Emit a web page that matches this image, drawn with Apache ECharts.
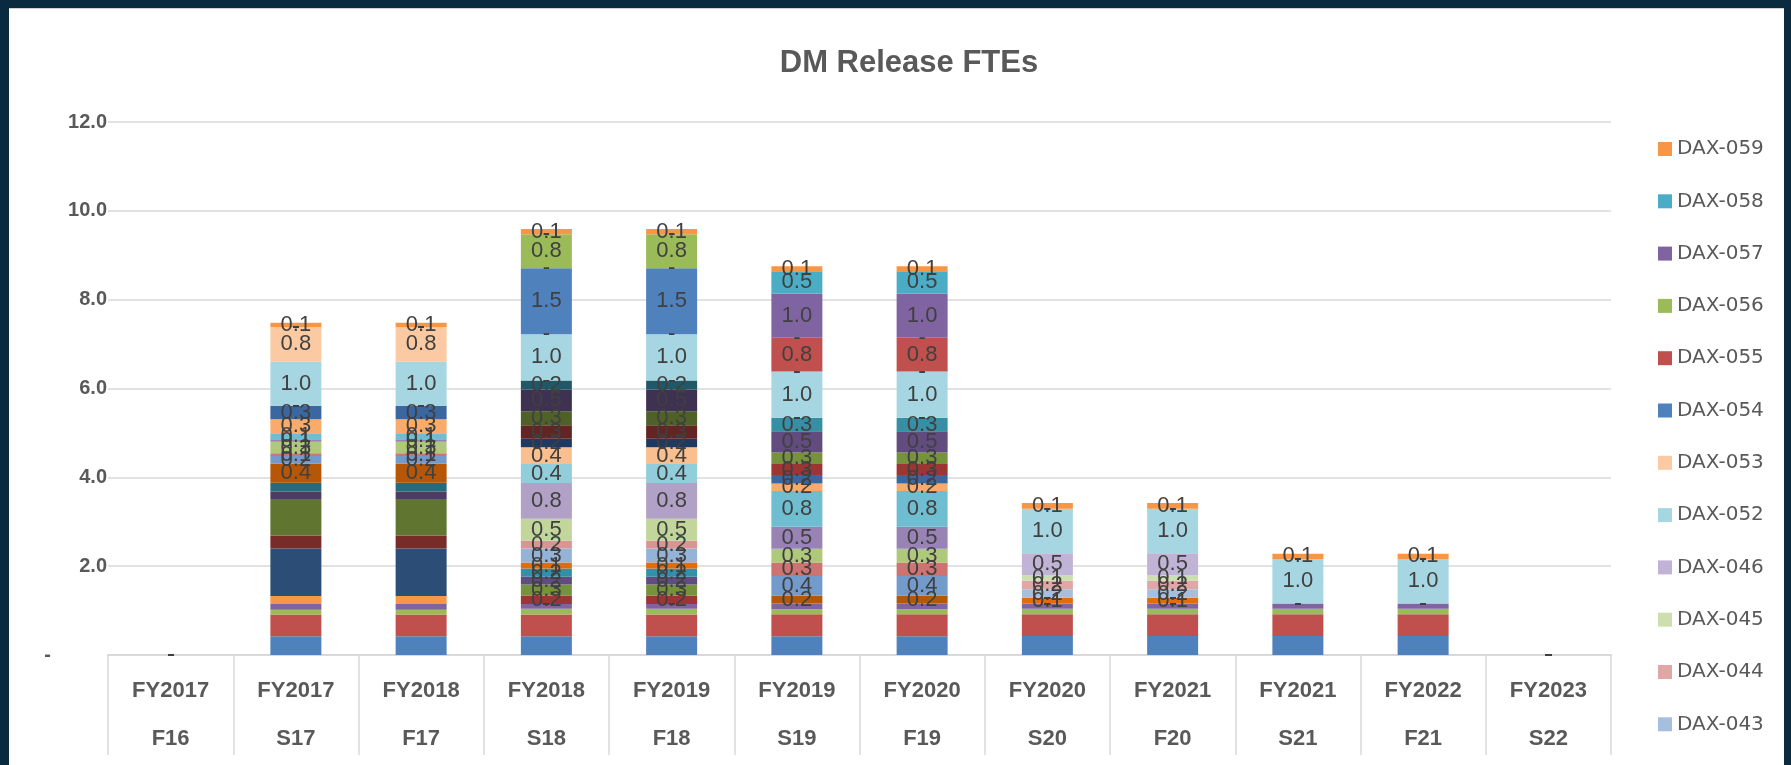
<!DOCTYPE html>
<html>
<head>
<meta charset="utf-8">
<script src="https://cdn.jsdelivr.net/npm/echarts@6/dist/echarts.min.js"></script>
<style>
  html, body { margin: 0; padding: 0; background: #0a2b3f; }
  #chart {
    position: absolute; left: 9px; top: 8px;
    width: 1775px; height: 757px;
    background: #fff; border-top: 1px solid #d0d0d0; box-sizing: border-box;
  }
</style>
</head>
<body>
<div id="chart"></div>
<script>
// categories (two-level axis)
const categories = ['F16', 'S17', 'F17', 'S18', 'F18', 'S19', 'F19', 'S20', 'F20', 'S21', 'F21', 'S22'];
const fiscalYears = ['FY2017', 'FY2017', 'FY2018', 'FY2018', 'FY2019', 'FY2019', 'FY2020', 'FY2020', 'FY2021', 'FY2021', 'FY2022', 'FY2023'];

// only the last 12 series show in the (cut off) legend
const legendNames = ['DAX-059', 'DAX-058', 'DAX-057', 'DAX-056', 'DAX-055', 'DAX-054',
  'DAX-053', 'DAX-052', 'DAX-046', 'DAX-045', 'DAX-044', 'DAX-043'];

// stacking order, bottom first
const hiddenNames = Array.from({ length: 36 }, (_, i) => 'Series ' + (i + 1));
const namedSeries = ['DAX-043', 'DAX-044', 'DAX-045', 'DAX-046', 'DAX-052', 'DAX-053',
  'DAX-054', 'DAX-055', 'DAX-056', 'DAX-057', 'DAX-058', 'DAX-059'];
const seriesNames = hiddenNames.concat(namedSeries);

const seriesColors = [
  '#4F81BD', '#C0504D', '#9BBB59', '#8064A2', '#4BACC6', '#F79646',
  '#2C4D75', '#772C2A', '#5F7530', '#4D3B62', '#276A7C', '#B65708',
  '#729ACA', '#CD7371', '#AFC97A', '#9983B5', '#6FBDD1', '#F9AB6B',
  '#3A67A0', '#9B3634', '#76923C', '#624B7E', '#3590A6', '#E36C09',
  '#95B3D7', '#D99594', '#C2D69B', '#B2A1C7', '#92CDDC', '#FABF8F',
  '#1F3A60', '#632423', '#4F6128', '#3F3151', '#205867', '#974806',
  '#A7BFDE', '#DFA8A7', '#CDDEAF', '#C0B3D5', '#A6D6E2', '#FBCAA2',
  '#4F81BD', '#C0504D', '#9BBB59', '#8064A2', '#4BACC6', '#F79646'
];

// values per category, 48 per column in stacking order (groups of 6)
const colF16 = [
  0, 0, 0, 0, 0, 0,   0, 0, 0, 0, 0, 0,   0, 0, 0, 0, 0, 0,   0, 0, 0, 0, 0, 0,
  0, 0, 0, 0, 0, 0,   0, 0, 0, 0, 0, 0,   0, 0, 0, 0, 0, 0,   0, 0, 0, 0, 0, 0];
const colS17 = [
  0.42, 0.49, 0.11, 0.13, 0, 0.18,   1.07, 0.29, 0.82, 0.17, 0.2, 0.43,
  0.17, 0.06, 0.26, 0.06, 0.13, 0.32,   0.3, 0, 0, 0, 0, 0,
  0, 0, 0, 0, 0, 0,   0, 0, 0, 0, 0, 0,
  0, 0, 0, 0, 1.0, 0.77,   0, 0, 0, 0, 0, 0.1];
const colF17 = [
  0.42, 0.49, 0.11, 0.13, 0, 0.18,   1.07, 0.29, 0.82, 0.17, 0.2, 0.43,
  0.17, 0.06, 0.26, 0.06, 0.13, 0.32,   0.3, 0, 0, 0, 0, 0,
  0, 0, 0, 0, 0, 0,   0, 0, 0, 0, 0, 0,
  0, 0, 0, 0, 1.0, 0.77,   0, 0, 0, 0, 0, 0.1];
const colS18 = [
  0.42, 0.49, 0.13, 0.11, 0, 0,   0, 0, 0, 0, 0, 0,
  0, 0, 0, 0, 0, 0,   0, 0.19, 0.25, 0.17, 0.19, 0.13,
  0.32, 0.17, 0.5, 0.8, 0.43, 0.38,   0.19, 0.3, 0.32, 0.49, 0.2, 0,
  0, 0, 0, 0, 1.04, 0,   1.49, 0, 0.76, 0, 0, 0.12];
const colF18 = [
  0.42, 0.49, 0.13, 0.11, 0, 0,   0, 0, 0, 0, 0, 0,
  0, 0, 0, 0, 0, 0,   0, 0.19, 0.25, 0.17, 0.19, 0.13,
  0.32, 0.17, 0.5, 0.8, 0.43, 0.38,   0.19, 0.3, 0.32, 0.49, 0.2, 0,
  0, 0, 0, 0, 1.04, 0,   1.49, 0, 0.76, 0, 0, 0.12];
const colS19 = [
  0.42, 0.5, 0.11, 0.13, 0, 0,   0, 0, 0, 0, 0, 0.18,
  0.44, 0.3, 0.31, 0.5, 0.8, 0.17,   0.19, 0.25, 0.26, 0.48, 0.3, 0,
  0, 0, 0, 0, 0, 0,   0, 0, 0, 0, 0, 0,
  0, 0, 0, 0, 1.04, 0,   0, 0.76, 0, 1.0, 0.5, 0.11];
const colF19 = [
  0.42, 0.5, 0.11, 0.13, 0, 0,   0, 0, 0, 0, 0, 0.18,
  0.44, 0.3, 0.31, 0.5, 0.8, 0.17,   0.19, 0.25, 0.26, 0.48, 0.3, 0,
  0, 0, 0, 0, 0, 0,   0, 0, 0, 0, 0, 0,
  0, 0, 0, 0, 1.04, 0,   0, 0.76, 0, 1.0, 0.5, 0.11];
const colS20 = [
  0.43, 0.49, 0.12, 0.12, 0, 0,   0, 0, 0, 0, 0, 0,
  0, 0, 0, 0, 0, 0,   0, 0, 0, 0, 0, 0.13,
  0, 0, 0, 0, 0, 0,   0, 0, 0, 0, 0, 0,
  0.19, 0.19, 0.13, 0.49, 1.0, 0,   0, 0, 0, 0, 0, 0.13];
const colF20 = [
  0.43, 0.49, 0.12, 0.12, 0, 0,   0, 0, 0, 0, 0, 0,
  0, 0, 0, 0, 0, 0,   0, 0, 0, 0, 0, 0.13,
  0, 0, 0, 0, 0, 0,   0, 0, 0, 0, 0, 0,
  0.19, 0.19, 0.13, 0.49, 1.0, 0,   0, 0, 0, 0, 0, 0.13];
const colS21 = [
  0.43, 0.49, 0.12, 0.12, 0, 0,   0, 0, 0, 0, 0, 0,
  0, 0, 0, 0, 0, 0,   0, 0, 0, 0, 0, 0,
  0, 0, 0, 0, 0, 0,   0, 0, 0, 0, 0, 0,
  0, 0, 0, 0, 1.0, 0,   0, 0, 0, 0, 0, 0.12];
const colF21 = [
  0.43, 0.49, 0.12, 0.12, 0, 0,   0, 0, 0, 0, 0, 0,
  0, 0, 0, 0, 0, 0,   0, 0, 0, 0, 0, 0,
  0, 0, 0, 0, 0, 0,   0, 0, 0, 0, 0, 0,
  0, 0, 0, 0, 1.0, 0,   0, 0, 0, 0, 0, 0.12];
const colS22 = [
  0, 0, 0, 0, 0, 0,   0, 0, 0, 0, 0, 0,   0, 0, 0, 0, 0, 0,   0, 0, 0, 0, 0, 0,
  0, 0, 0, 0, 0, 0,   0, 0, 0, 0, 0, 0,   0, 0, 0, 0, 0, 0,   0, 0, 0, 0, 0, 0];

const columns = [colF16, colS17, colF17, colS18, colF18, colS19, colF19, colS20, colF20, colS21, colF21, colS22];

// data labels only from the 12th series up
const firstLabelled = 11;

const chart = echarts.init(document.getElementById('chart'));

const series = seriesNames.map((name, i) => ({
  name: name,
  type: 'bar',
  stack: 'fte',
  barWidth: 51,
  itemStyle: { color: seriesColors[i] },
  emphasis: { disabled: true },
  label: {
    show: i >= firstLabelled,
    position: 'inside',
    color: '#404040',
    fontFamily: 'Liberation Sans',
    fontSize: 22,
    formatter: p => (p.value === 0 ? '-' : p.value.toFixed(1))
  },
  data: columns.map(c => c[i])
}));

chart.setOption({
  animation: false,
  title: {
    text: 'DM Release FTEs',
    left: 895,
    textAlign: 'center',
    top: 34,
    textStyle: {
      color: '#595959',
      fontFamily: 'Liberation Sans',
      fontWeight: 'bold',
      fontSize: 31
    }
  },
  legend: {
    data: legendNames,
    orient: 'vertical',
    left: 1649,
    top: 130,
    padding: 0,
    icon: 'rect',
    itemWidth: 14,
    itemHeight: 14,
    itemGap: 32.3,
    textStyle: {
      color: '#595959',
      fontFamily: 'DejaVu Sans',
      fontSize: 20
    },
    selectedMode: false
  },
  grid: {
    left: 99,
    right: 173,
    top: 113,
    bottom: 110,
    containLabel: false
  },
  xAxis: {
    type: 'category',
    data: categories,
    axisLine: { lineStyle: { color: '#D9D9D9', width: 2 } },
    axisTick: { show: true, interval: 0, length: 100, lineStyle: { color: '#D9D9D9', width: 1.5 } },
    axisLabel: {
      interval: 0,
      margin: 12,
      color: '#595959',
      fontFamily: 'Liberation Sans',
      fontWeight: 'bold',
      fontSize: 22,
      lineHeight: 48,
      formatter: (v, idx) => fiscalYears[idx] + '\n' + v
    }
  },
  yAxis: {
    type: 'value',
    min: 0,
    max: 12,
    interval: 2,
    axisLine: { show: false },
    axisTick: { show: false },
    splitLine: { lineStyle: { color: '#D9D9D9', width: 1.5 } },
    axisLabel: {
      margin: 1,
      color: '#595959',
      fontFamily: 'Liberation Sans',
      fontWeight: 'bold',
      fontSize: 20,
      formatter: v => (v === 0 ? '{z|-}' : v.toFixed(1)),
      rich: {
        z: { padding: [0, 56, 0, 0], color: '#595959', fontWeight: 'bold', fontSize: 20 }
      }
    }
  },
  series: series
});
</script>
</body>
</html>
